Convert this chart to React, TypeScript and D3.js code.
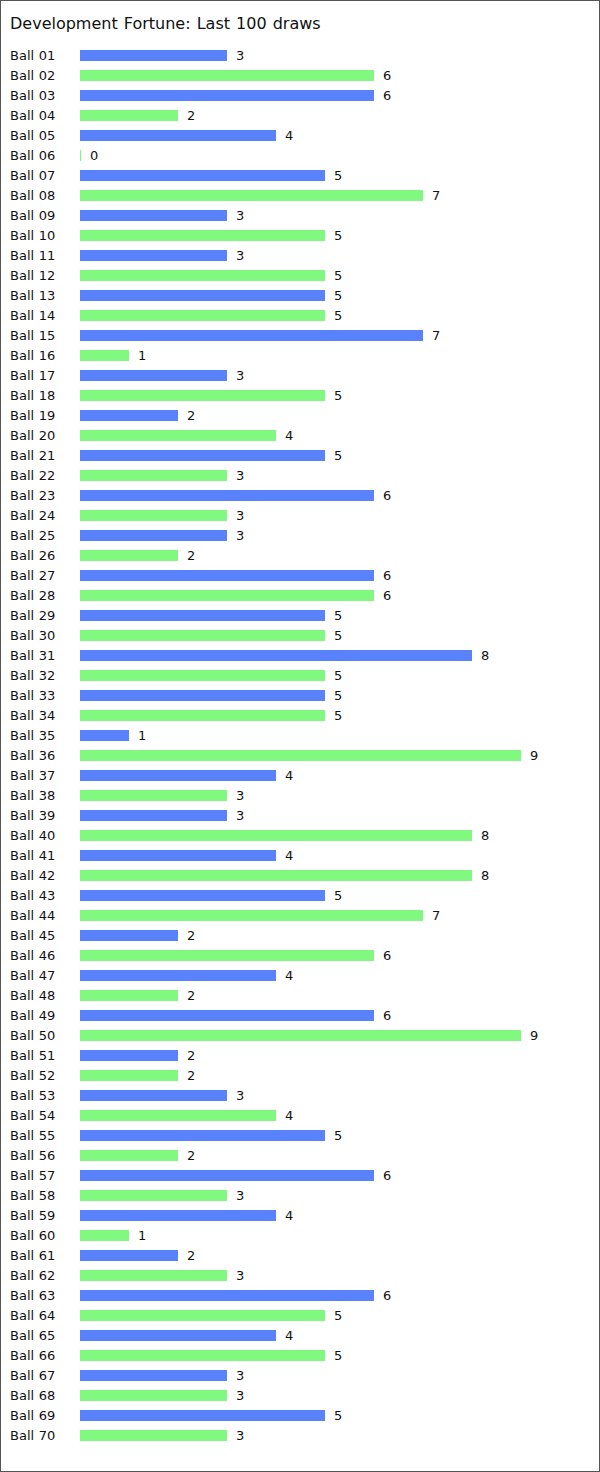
import React from "react";
import * as d3 from "d3";

const title = "Development Fortune: Last 100 draws";
const balls = Array.from({ length: 70 }, (_, i) => `Ball ${String(i + 1).padStart(2, "0")}`);
const counts = [
  3, 6, 6, 2, 4, 0, 5, 7, 3, 5,
  3, 5, 5, 5, 7, 1, 3, 5, 2, 4,
  5, 3, 6, 3, 3, 2, 6, 6, 5, 5,
  8, 5, 5, 5, 1, 9, 4, 3, 3, 8,
  4, 8, 5, 7, 2, 6, 4, 2, 6, 9,
  2, 2, 3, 4, 5, 2, 6, 3, 4, 1,
  2, 3, 6, 5, 4, 5, 3, 3, 5, 3,
];
const colors = ["#5882ff", "#81f981"];

export default function App() {
  const W = 600;
  const H = 1472;
  const x = d3.scaleLinear().domain([0, 9]).range([80, 521]);
  const y = d3.scaleBand().domain(balls).range([45.5, 1445.5]).paddingInner(0.45).paddingOuter(0.225);
  const font = "'DejaVu Sans', Verdana, sans-serif";
  return (
    <svg width={W} height={H} style={{ position: "absolute", left: 0, top: 0 }} fontFamily={font}>
      <rect x={0.5} y={0.5} width={W - 1} height={H - 1} fill="#fff" stroke="#555" />
      <text x={10} y={29} fontSize={16} fill="#111" wordSpacing={1}>{title}</text>
      {balls.map((b, i) => {
        const v = counts[i];
        const yy = y(b)!;
        const w = Math.max(1, x(v) - x(0));
        return (
          <g key={b}>
            <text x={10} y={yy + 10} fontSize={13} fill="#111" wordSpacing={0.5}>{b}</text>
            <rect x={x(0)} y={yy} width={w} height={y.bandwidth()} fill={colors[i % 2]} />
            <text x={x(0) + w + 9} y={yy + 10} fontSize={13} fill="#111">{v}</text>
          </g>
        );
      })}
    </svg>
  );
}
